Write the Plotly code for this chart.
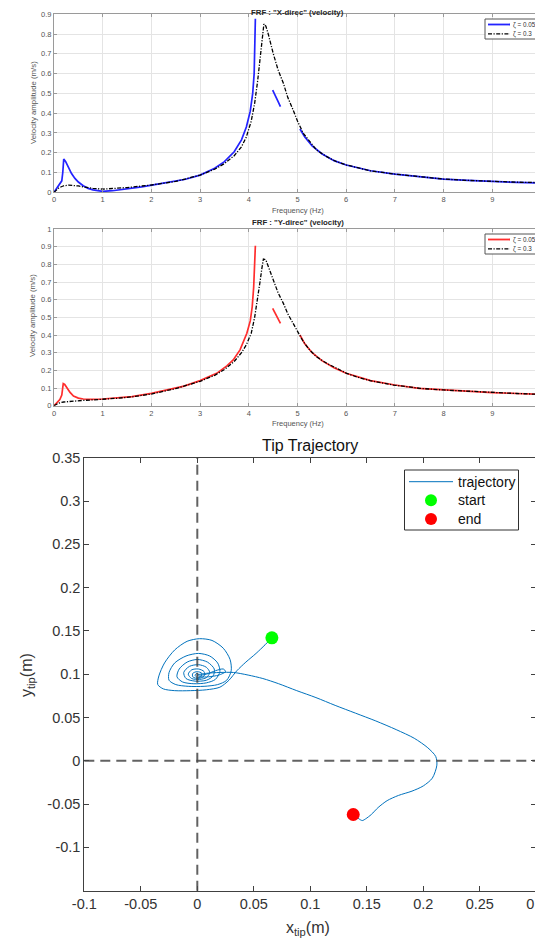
import plotly.graph_objects as go

# ---------------- FRF X-direction ----------------
freq_x_z005 = [0, 0.06, 0.12, 0.16, 0.18, 0.2, 0.24, 0.3, 0.36, 0.43, 0.5, 0.6, 0.7, 0.8, 0.9, 1.0,
               1.2, 1.5, 1.8, 2.1, 2.4, 2.7, 3.0, 3.3, 3.5, 3.7, 3.85, 3.95, 4.03, 4.08, 4.11, 4.125, 4.135,
               None,
               4.49, 4.55, 4.6, 4.65,
               None,
               5.05, 5.15, 5.3, 5.5, 5.75, 6.0, 6.5, 7.0, 7.5, 8.0, 8.5, 9.0, 9.5, 10.0]
amp_x_z005 = [0, 0.02, 0.045, 0.058, 0.1, 0.168, 0.155, 0.125, 0.095, 0.07, 0.052, 0.033, 0.02, 0.012, 0.007, 0.005,
              0.008, 0.016, 0.027, 0.04, 0.052, 0.066, 0.087, 0.122, 0.155, 0.205, 0.265, 0.33, 0.41, 0.5, 0.6, 0.72, 0.877,
              None,
              0.517, 0.49, 0.46, 0.433,
              None,
              0.32, 0.28, 0.235, 0.195, 0.16, 0.138, 0.109, 0.092, 0.079, 0.067, 0.06, 0.054, 0.05, 0.047]

freq_x_z03 = [0, 0.05, 0.1, 0.15, 0.2, 0.3, 0.4, 0.5, 0.6, 0.7, 0.8, 1.0, 1.2, 1.5, 2.0, 2.5, 3.0, 3.3, 3.5,
              3.7, 3.85, 3.95, 4.05, 4.12, 4.18, 4.23, 4.27, 4.31, 4.35, 4.4, 4.5, 4.6, 4.71, 4.8, 4.91, 5.0,
              5.12, 5.25, 5.39, 5.6, 5.8, 6.01, 6.25, 6.49, 6.97, 7.52, 7.99, 8.5, 9.02, 9.5, 10.0]
amp_x_z03 = [0, 0.012, 0.022, 0.028, 0.033, 0.036, 0.035, 0.032, 0.027, 0.023, 0.02, 0.016, 0.018, 0.024, 0.037,
             0.055, 0.087, 0.117, 0.145, 0.185, 0.23, 0.28, 0.36, 0.45, 0.56, 0.68, 0.78, 0.851, 0.84, 0.8, 0.703,
             0.62, 0.551, 0.48, 0.416, 0.36, 0.298, 0.255, 0.214, 0.18, 0.155, 0.138, 0.122, 0.109, 0.093, 0.079,
             0.067, 0.06, 0.054, 0.051, 0.049]

# ---------------- FRF Y-direction ----------------
freq_y_z005 = [0, 0.06, 0.12, 0.16, 0.19, 0.22, 0.27, 0.33, 0.4, 0.5, 0.6, 0.75, 1.0, 1.3, 1.6, 2.0, 2.33, 2.67,
               3.0, 3.34, 3.55, 3.68, 3.82, 3.96, 4.03, 4.07, 4.1, 4.12, 4.135,
               None,
               4.49, 4.55, 4.6, 4.65,
               None,
               5.05, 5.15, 5.3, 5.5, 5.75, 6.0, 6.5, 7.0, 7.5, 8.0, 8.5, 9.0, 9.5, 10.0]
amp_y_z005 = [0, 0.015, 0.035, 0.06, 0.125, 0.12, 0.1, 0.075, 0.055, 0.043, 0.038, 0.036, 0.038, 0.044, 0.051,
              0.07, 0.089, 0.111, 0.142, 0.183, 0.225, 0.259, 0.316, 0.41, 0.48, 0.56, 0.67, 0.787, 0.905,
              None,
              0.551, 0.52, 0.49, 0.466,
              None,
              0.4, 0.35, 0.3, 0.255, 0.215, 0.184, 0.142, 0.117, 0.098, 0.089, 0.081, 0.074, 0.069, 0.064]

freq_y_z03 = [0, 0.05, 0.1, 0.2, 0.3, 0.4, 0.6, 0.8, 1.0, 1.3, 1.6, 2.0, 2.5, 3.0, 3.3, 3.5, 3.7, 3.85, 3.95,
              4.05, 4.12, 4.18, 4.23, 4.27, 4.3, 4.35, 4.4, 4.5, 4.6, 4.71, 4.8, 4.91, 5.0, 5.12, 5.25, 5.39,
              5.6, 5.8, 6.01, 6.25, 6.49, 6.97, 7.52, 7.99, 8.5, 9.02, 9.5, 10.0]
amp_y_z03 = [0, 0.01, 0.015, 0.021, 0.024, 0.027, 0.03, 0.033, 0.036, 0.042, 0.05, 0.066, 0.097, 0.138, 0.172,
             0.205, 0.25, 0.3, 0.345, 0.41, 0.5, 0.6, 0.7, 0.78, 0.83, 0.825, 0.79, 0.711, 0.64, 0.579, 0.52,
             0.466, 0.42, 0.362, 0.315, 0.277, 0.24, 0.21, 0.183, 0.16, 0.142, 0.117, 0.098, 0.089, 0.081, 0.074,
             0.069, 0.064]

series_names = ["ζ = 0.05", "ζ = 0.3"]

freq_ticks = [0, 1, 2, 3, 4, 5, 6, 7, 8, 9, 10]
freq_ticklabels = ["0", "1", "2", "3", "4", "5", "6", "7", "8", "9", "10"]
ampx_ticks = [0, 0.1, 0.2, 0.3, 0.4, 0.5, 0.6, 0.7, 0.8, 0.9]
ampx_ticklabels = ["0", "0.1", "0.2", "0.3", "0.4", "0.5", "0.6", "0.7", "0.8", "0.9"]
ampy_ticks = [0, 0.1, 0.2, 0.3, 0.4, 0.5, 0.6, 0.7, 0.8, 0.9, 1.0]
ampy_ticklabels = ["0", "0.1", "0.2", "0.3", "0.4", "0.5", "0.6", "0.7", "0.8", "0.9", "1"]

# ---------------- Tip trajectory ----------------
tip_x = [0.066, 0.060, 0.052, 0.043, 0.035,
         0.028, 0.020, 0.008, -0.006, -0.020, -0.030, -0.035, -0.034, -0.029, -0.020, -0.009, 0.002, 0.013,
         0.023, 0.029, 0.030, 0.026,
         0.018, 0.006, -0.008, -0.019, -0.025, -0.025, -0.020, -0.010, 0.001, 0.011, 0.018, 0.020, 0.016,
         0.008, -0.003, -0.013, -0.018, -0.016, -0.009, 0.000, 0.009, 0.015, 0.014,
         0.008, -0.002, -0.010, -0.012, -0.007, 0.001, 0.008, 0.011, 0.008,
         0.002, -0.005, -0.008, -0.005, 0.001, 0.006, 0.006,
         0.001, -0.004, -0.004, 0.000, 0.004, 0.003, 0.000, -0.002, 0.000, 0.002,
         0.008, 0.016, 0.023, 0.025, 0.019, 0.010, 0.003, 0.000,
         0.008, 0.020, 0.032, 0.045, 0.058, 0.072, 0.088, 0.105, 0.122, 0.140, 0.158, 0.176, 0.192, 0.204,
         0.211, 0.212, 0.208, 0.200, 0.190, 0.178, 0.168, 0.160, 0.154, 0.149, 0.146, 0.143, 0.140, 0.138]
tip_y = [0.142, 0.134, 0.124, 0.114, 0.104,
         0.093, 0.085, 0.082, 0.081, 0.081, 0.083, 0.088, 0.098, 0.113, 0.128, 0.138, 0.141, 0.139,
         0.130, 0.117, 0.104, 0.093,
         0.088, 0.086, 0.086, 0.088, 0.093, 0.102, 0.113, 0.121, 0.124, 0.121, 0.113, 0.103, 0.094,
         0.090, 0.089, 0.091, 0.097, 0.106, 0.114, 0.117, 0.114, 0.106, 0.098,
         0.093, 0.092, 0.095, 0.102, 0.109, 0.111, 0.108, 0.102, 0.096,
         0.094, 0.095, 0.100, 0.105, 0.106, 0.103, 0.098,
         0.095, 0.097, 0.101, 0.103, 0.101, 0.097, 0.096, 0.099, 0.101, 0.099,
         0.100, 0.104, 0.106, 0.103, 0.099, 0.097, 0.097, 0.099,
         0.101, 0.102, 0.102, 0.099, 0.095, 0.089, 0.081, 0.073, 0.064, 0.055, 0.046, 0.036, 0.026, 0.015,
         0.005, -0.005, -0.020, -0.029, -0.035, -0.040, -0.046, -0.054, -0.062, -0.067, -0.069, -0.067,
         -0.064, -0.062]
start_pt = (0.066, 0.142)
end_pt = (0.138, -0.062)
tip_names = ["trajectory", "start", "end"]

tip_xticks = [-0.1, -0.05, 0, 0.05, 0.1, 0.15, 0.2, 0.25, 0.3]
tip_xticklabels = ["-0.1", "-0.05", "0", "0.05", "0.1", "0.15", "0.2", "0.25", "0.3"]
tip_yticks = [-0.1, -0.05, 0, 0.05, 0.1, 0.15, 0.2, 0.25, 0.3, 0.35]
tip_yticklabels = ["-0.1", "-0.05", "0", "0.05", "0.1", "0.15", "0.2", "0.25", "0.3", "0.35"]
tip_xrange = [-0.1, 0.3]
tip_yrange = [-0.15, 0.35]

# page body adds an 8px margin, so the figure is 8px smaller and all page positions are shifted by 8px
OFF = 8
W, H = 543 - OFF, 941 - OFF
FONT = "Liberation Sans, Arial, sans-serif"
BLUE = "rgb(35,35,255)"
RED = "rgb(255,45,45)"
TRAJ = "#0072BD"
GREEN_M = "#00FF00"
RED_M = "#FF0000"
DASHDOT = "4px,1.5px,1.2px,1.5px"


def px_x(p):
    return (p - OFF) / W


def px_y(p):
    return 1 - (p - OFF) / H


fig = go.Figure()

fig.add_trace(go.Scatter(x=freq_x_z005, y=amp_x_z005, mode="lines", name=series_names[0],
                         line=dict(color=BLUE, width=1.7), connectgaps=False,
                         xaxis="x", yaxis="y", showlegend=False))
fig.add_trace(go.Scatter(x=freq_x_z03, y=amp_x_z03, mode="lines", name=series_names[1],
                         line=dict(color="black", width=1.3, dash=DASHDOT),
                         xaxis="x", yaxis="y", showlegend=False))
fig.add_trace(go.Scatter(x=freq_y_z005, y=amp_y_z005, mode="lines", name=series_names[0],
                         line=dict(color=RED, width=1.7), connectgaps=False,
                         xaxis="x2", yaxis="y2", showlegend=False))
fig.add_trace(go.Scatter(x=freq_y_z03, y=amp_y_z03, mode="lines", name=series_names[1],
                         line=dict(color="black", width=1.3, dash=DASHDOT),
                         xaxis="x2", yaxis="y2", showlegend=False))

fig.add_trace(go.Scatter(x=tip_x, y=tip_y, mode="lines", name=tip_names[0],
                         line=dict(color=TRAJ, width=1, shape="spline", smoothing=0.8),
                         xaxis="x3", yaxis="y3", showlegend=False))
fig.add_trace(go.Scatter(x=[start_pt[0]], y=[start_pt[1]], mode="markers", name=tip_names[1],
                         marker=dict(color=GREEN_M, size=13), xaxis="x3", yaxis="y3", showlegend=False))
fig.add_trace(go.Scatter(x=[end_pt[0]], y=[end_pt[1]], mode="markers", name=tip_names[2],
                         marker=dict(color=RED_M, size=13), xaxis="x3", yaxis="y3", showlegend=False))

small_axis = dict(showgrid=True, gridcolor="#e4e4e4", gridwidth=1, showline=True, linecolor="#9a9a9a",
                  linewidth=1, mirror="ticks", ticks="inside", ticklen=3, tickcolor="#9a9a9a",
                  tickfont=dict(size=7.5, color="#555555", family=FONT), zeroline=False,
                  ticklabeloverflow="allow")

big_axis = dict(showgrid=False, showline=True, linecolor="#404040", linewidth=1, mirror="ticks",
                ticks="inside", ticklen=5, tickcolor="#404040",
                tickfont=dict(size=14.5, color="#333333", family=FONT), zeroline=False,
                ticklabeloverflow="allow")

fig.update_layout(
    width=W, height=H, margin=dict(l=0, r=0, t=0, b=0, autoexpand=False),
    paper_bgcolor="white", plot_bgcolor="white",
    font=dict(family=FONT),
    showlegend=False,
    xaxis=dict(small_axis, domain=[px_x(54), px_x(541)], anchor="y", range=[0, 10],
               tickvals=freq_ticks, ticktext=freq_ticklabels),
    yaxis=dict(small_axis, domain=[px_y(192.3), px_y(14.3)], anchor="x", range=[0, 0.9],
               tickvals=ampx_ticks, ticktext=ampx_ticklabels),
    xaxis2=dict(small_axis, domain=[px_x(54), px_x(541)], anchor="y2", range=[0, 10],
                tickvals=freq_ticks, ticktext=freq_ticklabels),
    yaxis2=dict(small_axis, domain=[px_y(405.7), px_y(229)], anchor="x2", range=[0, 1],
                tickvals=ampy_ticks, ticktext=ampy_ticklabels),
    xaxis3=dict(big_axis, domain=[px_x(84.3), px_x(536.3)], anchor="y3", range=tip_xrange,
                tickvals=tip_xticks, ticktext=tip_xticklabels),
    yaxis3=dict(big_axis, domain=[px_y(890.7), px_y(457.7)], anchor="x3", range=tip_yrange,
                tickvals=tip_yticks, ticktext=tip_yticklabels),
)

# dashed reference lines through the origin of the trajectory panel
fig.add_shape(type="line", xref="x3", yref="y3 domain", x0=0, x1=0, y0=0, y1=1,
              line=dict(color="rgba(70,70,70,0.85)", width=2, dash="10px,6px"))
fig.add_shape(type="line", xref="x3 domain", yref="y3", x0=0, x1=1, y0=0, y1=0,
              line=dict(color="rgba(70,70,70,0.85)", width=2, dash="10px,6px"))


# compact legends for the two FRF panels (box, line samples, labels)
def small_legend(top, color):
    fig.add_shape(type="rect", xref="paper", yref="paper", x0=px_x(485), x1=px_x(536),
                  y0=px_y(top + 20), y1=px_y(top), line=dict(color="#555555", width=1),
                  fillcolor="white", layer="above")
    for i, (c, w, d) in enumerate([(color, 1.8, "solid"), ("black", 1.3, DASHDOT)]):
        yy = px_y(top + 5.5 + 9.3 * i)
        fig.add_shape(type="line", xref="paper", yref="paper", x0=px_x(488), x1=px_x(510),
                      y0=yy, y1=yy, line=dict(color=c, width=w, dash=d), layer="above")
        fig.add_annotation(text=series_names[i], x=px_x(510.5), y=yy, xref="paper", yref="paper",
                           showarrow=False, xanchor="left", yanchor="middle",
                           font=dict(size=6.3, color="#333333", family=FONT))


small_legend(19, BLUE)
small_legend(234, RED)

# legend of the trajectory panel
fig.add_shape(type="rect", xref="paper", yref="paper", x0=px_x(404.5), x1=px_x(518.5),
              y0=px_y(530), y1=px_y(470), line=dict(color="#303030", width=1),
              fillcolor="white", layer="above")
leg_rows = [481.7, 500.3, 519]
fig.add_shape(type="line", xref="paper", yref="paper", x0=px_x(409), x1=px_x(453),
              y0=px_y(leg_rows[0]), y1=px_y(leg_rows[0]), line=dict(color=TRAJ, width=1), layer="above")
for yy, col in zip(leg_rows[1:], [GREEN_M, RED_M]):
    fig.add_shape(type="circle", xref="paper", yref="paper", x0=px_x(425), x1=px_x(437),
                  y0=px_y(yy + 6), y1=px_y(yy - 6), line=dict(width=0), fillcolor=col, layer="above")
for yy, name in zip(leg_rows, tip_names):
    fig.add_annotation(text=name, x=px_x(456), y=px_y(yy), xref="paper", yref="paper", showarrow=False,
                       xanchor="left", yanchor="middle", font=dict(size=14, color="#111111", family=FONT))

ann = [
    dict(text='<b>FRF : "X-direc" (velocity)</b>', x=px_x(297.5), y=px_y(12), font=dict(size=7.8, color="#262626")),
    dict(text="Frequency (Hz)", x=px_x(297.5), y=px_y(210), font=dict(size=7.5, color="#555555")),
    dict(text="Velocity amplitude (m/s)", x=px_x(33), y=px_y(103), textangle=-90,
         font=dict(size=7.8, color="#555555")),
    dict(text='<b>FRF : "Y-direc" (velocity)</b>', x=px_x(297.5), y=px_y(222.5), font=dict(size=7.8, color="#262626")),
    dict(text="Frequency (Hz)", x=px_x(297.5), y=px_y(423), font=dict(size=7.5, color="#555555")),
    dict(text="Velocity amplitude (m/s)", x=px_x(33), y=px_y(316), textangle=-90,
         font=dict(size=7.8, color="#555555")),
    dict(text="Tip Trajectory", x=px_x(310), y=px_y(445), font=dict(size=16, color="#111111")),
    dict(text="x<sub>tip</sub>(m)", x=px_x(308), y=px_y(928), font=dict(size=16, color="#333333")),
    dict(text="y<sub>tip</sub>(m)", x=px_x(27), y=px_y(675), textangle=-90, font=dict(size=16, color="#333333")),
]
for a in ann:
    a.update(xref="paper", yref="paper", showarrow=False, xanchor="center", yanchor="middle")
    a["font"]["family"] = FONT
    fig.add_annotation(**a)

fig.write_html("out.html")
